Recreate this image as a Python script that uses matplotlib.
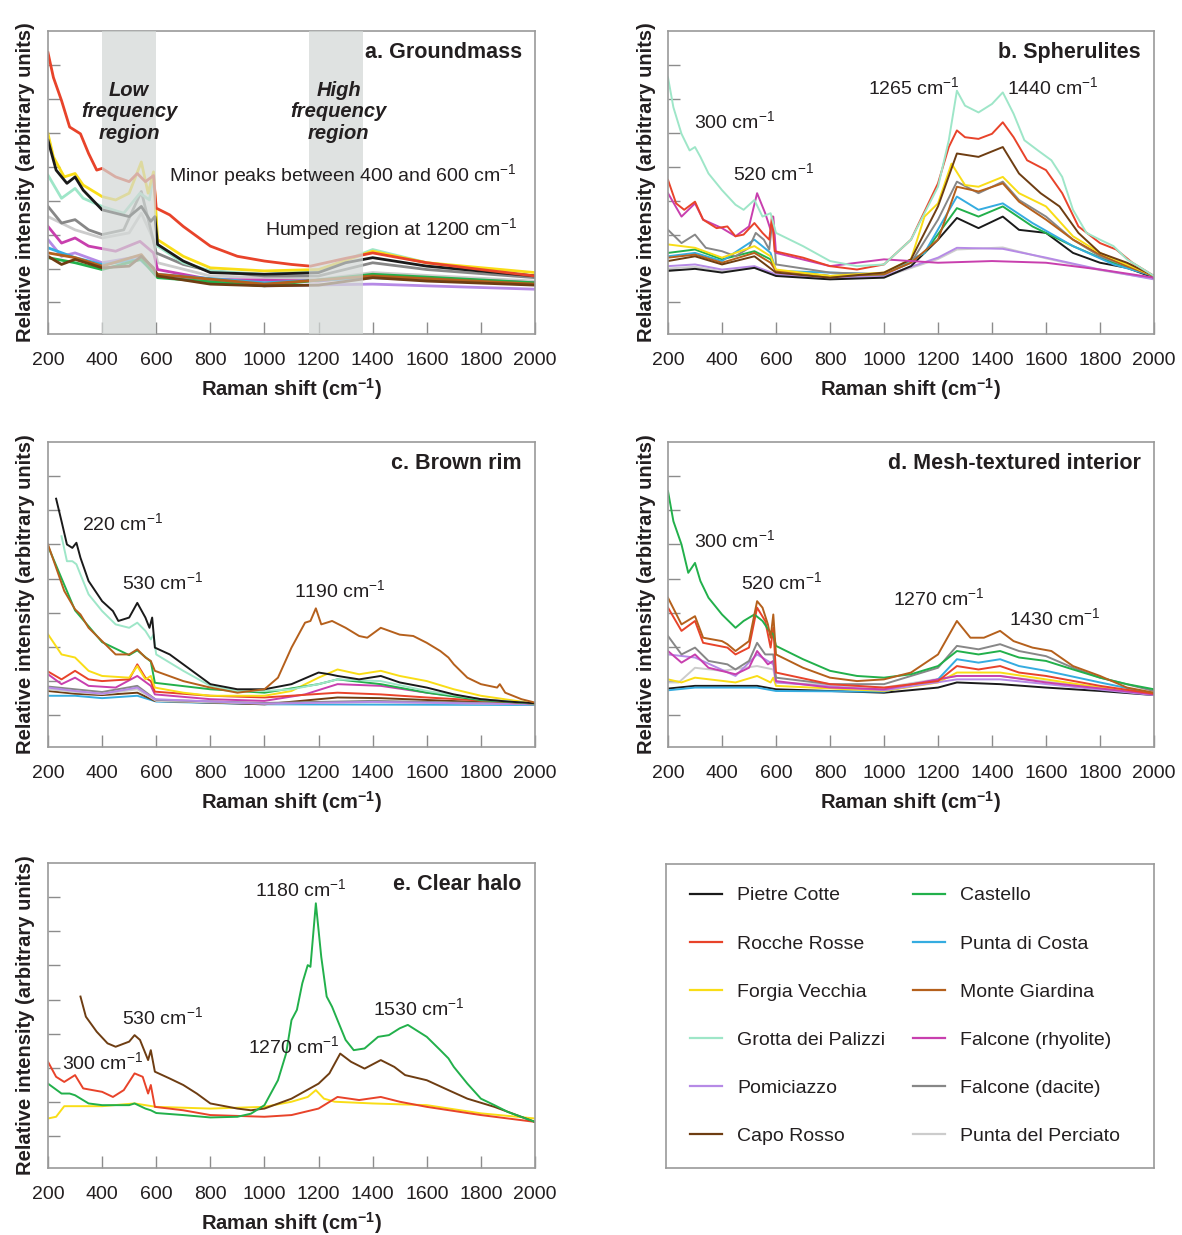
import matplotlib
matplotlib.use("Agg")
import matplotlib.pyplot as plt
from matplotlib.lines import Line2D

plt.rcParams["font.family"] = ["Liberation Sans", "DejaVu Sans"]
plt.rcParams["mathtext.default"] = "regular"
plt.rcParams["text.color"] = "#231f20"
plt.rcParams["axes.labelcolor"] = "#231f20"
plt.rcParams["xtick.color"] = "#8c8c8c"
plt.rcParams["xtick.labelcolor"] = "#231f20"

# =========================
# Locality colours (legend order: first column, then second column)
# =========================
LOCALITIES = [
    "Pietre Cotte", "Rocche Rosse", "Forgia Vecchia", "Grotta dei Palizzi",
    "Pomiciazzo", "Capo Rosso", "Castello", "Punta di Costa",
    "Monte Giardina", "Falcone (rhyolite)", "Falcone (dacite)", "Punta del Perciato",
]
COLORS = {
    "Pietre Cotte": "#1a1a1a",
    "Rocche Rosse": "#e8432a",
    "Forgia Vecchia": "#f9dd16",
    "Grotta dei Palizzi": "#9ee6c8",
    "Pomiciazzo": "#b68ae6",
    "Capo Rosso": "#6e3d12",
    "Castello": "#22b04b",
    "Punta di Costa": "#35ace0",
    "Monte Giardina": "#b5601c",
    "Falcone (rhyolite)": "#c83fae",
    "Falcone (dacite)": "#878787",
    "Punta del Perciato": "#cccccc",
}

# =========================
# Spectra: Raman shift (cm-1) and relative intensity (arbitrary units)
# =========================

# a. Groundmass
groundmass = {
    "Punta del Perciato": ([200, 300, 400, 500, 545, 590, 605, 800, 1200, 1400, 2000],
                           [2.53, 2.14, 1.90, 2.05, 2.63, 1.85, 1.17, 0.78, 0.68, 0.88, 0.63]),
    "Falcone (dacite)": ([200, 250, 300, 350, 400, 480, 545, 580, 600, 700, 800, 1000, 1200, 1400, 1600, 2000],
                         [2.83, 2.34, 2.44, 2.14, 2.00, 2.14, 3.27, 2.14, 1.46, 1.12, 0.93, 0.78, 0.78, 1.17, 0.97, 0.73]),
    "Grotta dei Palizzi": ([200, 250, 300, 330, 400, 480, 540, 575, 590, 605, 700, 800, 1000, 1200, 1400, 1600, 2000],
                           [3.75, 3.07, 3.36, 3.07, 2.83, 2.63, 3.22, 3.02, 3.80, 1.66, 1.17, 0.93, 0.83, 0.93, 1.56, 1.17, 0.78]),
    "Forgia Vecchia": ([200, 220, 260, 300, 330, 400, 450, 500, 545, 570, 590, 605, 700, 800, 1000, 1200, 1400, 1600, 2000],
                       [4.97, 4.29, 3.70, 3.80, 3.46, 3.12, 3.02, 3.22, 4.14, 3.22, 3.85, 1.85, 1.36, 1.02, 0.93, 0.97, 1.51, 1.17, 0.88]),
    "Pietre Cotte": ([200, 230, 270, 300, 330, 400, 450, 500, 545, 580, 595, 605, 700, 800, 1000, 1200, 1300, 1400, 1600, 2000],
                     [4.78, 3.90, 3.51, 3.70, 3.31, 2.73, 2.63, 2.53, 2.83, 2.39, 2.53, 1.71, 1.22, 0.88, 0.83, 0.88, 1.17, 1.32, 1.07, 0.78]),
    "Rocche Rosse": ([200, 220, 250, 280, 300, 320, 350, 380, 400, 450, 500, 530, 560, 590, 600, 650, 700, 750, 800, 900,
                      1000, 1100, 1170, 1300, 1400, 1600, 1800, 2000],
                     [7.36, 6.63, 5.95, 5.17, 5.07, 4.97, 4.39, 3.90, 3.95, 3.70, 3.56, 3.80, 3.56, 3.74, 2.78, 2.58, 2.24,
                      1.95, 1.66, 1.36, 1.22, 1.12, 1.07, 1.30, 1.46, 1.17, 0.97, 0.78]),
    "Falcone (rhyolite)": ([200, 250, 300, 350, 450, 540, 590, 605, 800, 1200, 1400, 2000],
                           [2.24, 1.75, 1.90, 1.66, 1.51, 1.80, 1.46, 0.97, 0.68, 0.63, 0.78, 0.58]),
    "Pomiciazzo": ([200, 250, 300, 400, 540, 600, 1000, 1400, 2000],
                   [1.85, 1.36, 1.46, 1.17, 1.36, 0.78, 0.49, 0.54, 0.39]),
    "Punta di Costa": ([200, 300, 400, 540, 600, 1000, 1400, 2000],
                       [1.61, 1.32, 1.12, 1.27, 0.83, 0.58, 0.73, 0.54]),
    "Castello": ([200, 300, 400, 545, 605, 1000, 1400, 2000],
                 [1.32, 1.17, 0.97, 1.27, 0.73, 0.49, 0.83, 0.58]),
    "Monte Giardina": ([200, 300, 400, 545, 605, 1000, 1400, 2000],
                       [1.46, 1.32, 1.07, 1.41, 0.83, 0.54, 0.78, 0.54]),
    "Capo Rosso": ([200, 250, 300, 400, 500, 545, 590, 605, 800, 1000, 1200, 1400, 1600, 2000],
                   [1.36, 1.12, 1.27, 1.02, 1.07, 1.36, 1.02, 0.78, 0.54, 0.49, 0.51, 0.73, 0.63, 0.51]),
}

# b. Spherulites
spherulites = {
    "Punta del Perciato": ([200, 300, 400, 520, 600, 800, 1000, 1200, 1270, 1440, 1600, 1800, 2000],
                           [1.00, 1.05, 0.92, 1.02, 0.80, 0.70, 0.75, 1.28, 1.56, 1.62, 1.30, 0.95, 0.70]),
    "Pomiciazzo": ([200, 300, 400, 520, 600, 800, 1000, 1200, 1270, 1440, 1600, 1800, 2000],
                   [1.07, 1.12, 0.97, 1.07, 0.83, 0.73, 0.78, 1.32, 1.61, 1.58, 1.32, 0.97, 0.68]),
    "Pietre Cotte": ([200, 300, 400, 520, 600, 800, 1000, 1100, 1200, 1270, 1350, 1440, 1500, 1600, 1700, 1800, 1900, 2000],
                     [0.93, 0.99, 0.88, 1.02, 0.78, 0.68, 0.73, 1.07, 1.85, 2.49, 2.19, 2.53, 2.14, 2.05, 1.46, 1.17, 1.02, 0.73]),
    "Castello": ([200, 300, 400, 520, 580, 600, 800, 1000, 1150, 1270, 1350, 1440, 1550, 1700, 1800, 1900, 2000],
                 [1.46, 1.56, 1.27, 1.51, 1.27, 0.93, 0.78, 0.83, 1.46, 2.78, 2.53, 2.83, 2.24, 1.66, 1.32, 1.02, 0.78]),
    "Punta di Costa": ([200, 300, 400, 520, 580, 600, 1000, 1150, 1270, 1350, 1440, 1550, 1700, 1850, 2000],
                       [1.36, 1.46, 1.22, 1.85, 1.46, 0.93, 0.83, 1.46, 3.12, 2.73, 2.92, 2.34, 1.66, 1.12, 0.78]),
    "Falcone (dacite)": ([200, 250, 300, 340, 400, 450, 500, 525, 555, 575, 588, 600, 800, 1000, 1100, 1200, 1270, 1350,
                         1440, 1500, 1600, 1700, 1800, 1900, 2000],
                         [2.14, 1.75, 2.00, 1.61, 1.51, 1.36, 1.61, 2.05, 1.85, 1.56, 2.53, 1.12, 0.88, 0.83, 1.17, 2.44,
                          3.56, 3.22, 3.56, 3.02, 2.53, 1.85, 1.36, 1.07, 0.78]),
    "Monte Giardina": ([200, 300, 400, 520, 580, 600, 800, 1000, 1100, 1200, 1270, 1350, 1440, 1500, 1600, 1700, 1800, 1900, 2000],
                       [1.32, 1.41, 1.17, 1.46, 1.17, 0.93, 0.78, 0.83, 1.17, 1.85, 3.41, 3.27, 3.51, 2.97, 2.44, 1.85, 1.41, 1.07, 0.78]),
    "Forgia Vecchia": ([200, 300, 400, 520, 580, 600, 800, 1000, 1100, 1150, 1200, 1250, 1300, 1350, 1440, 1500, 1600,
                        1700, 1800, 1900, 2000],
                       [1.71, 1.61, 1.32, 1.66, 1.36, 0.97, 0.78, 0.88, 1.27, 2.53, 2.92, 4.09, 3.46, 3.41, 3.70, 3.22, 2.83,
                        1.95, 1.46, 1.12, 0.78]),
    "Capo Rosso": ([200, 300, 400, 520, 600, 800, 1000, 1100, 1200, 1270, 1350, 1440, 1500, 1580, 1650, 1720, 1800, 1900, 2000],
                   [1.22, 1.36, 1.12, 1.36, 0.88, 0.73, 0.88, 1.27, 2.83, 4.39, 4.29, 4.58, 3.80, 3.22, 2.83, 2.05, 1.46, 1.17, 0.78]),
    "Falcone (rhyolite)": ([200, 250, 300, 330, 400, 450, 500, 530, 560, 580, 590, 600, 800, 1000, 1200, 1400, 1600, 1800, 2000],
                           [3.22, 2.53, 2.92, 2.44, 2.19, 1.95, 2.24, 3.22, 2.63, 2.14, 2.53, 1.46, 1.07, 1.27, 1.17, 1.22, 1.17, 0.97, 0.73]),
    "Rocche Rosse": ([200, 230, 260, 300, 330, 380, 420, 450, 480, 520, 550, 575, 585, 595, 700, 800, 900, 1000, 1100,
                      1200, 1240, 1270, 1300, 1350, 1400, 1440, 1480, 1530, 1600, 1660, 1720, 1800, 1860, 1920, 2000],
                     [3.61, 2.92, 2.73, 2.97, 2.44, 2.19, 2.24, 1.95, 2.00, 2.34, 2.05, 1.85, 2.53, 1.51, 1.32, 1.07,
                      0.97, 1.12, 1.85, 3.51, 4.58, 5.07, 4.87, 4.82, 4.97, 5.31, 4.87, 4.19, 3.90, 3.22, 2.24, 1.75,
                      1.56, 1.17, 0.78]),
    "Grotta dei Palizzi": ([200, 220, 250, 280, 300, 320, 350, 400, 450, 480, 520, 550, 580, 600, 700, 800, 900, 1000,
                            1100, 1200, 1240, 1270, 1300, 1350, 1400, 1440, 1480, 1520, 1570, 1620, 1660, 1700, 1750,
                            1800, 1850, 1900, 2000],
                           [6.63, 5.75, 4.97, 4.48, 4.58, 4.29, 3.80, 3.31, 2.88, 2.73, 3.02, 2.53, 2.63, 2.05, 1.66,
                            1.22, 1.07, 1.12, 1.85, 3.41, 4.78, 6.24, 5.80, 5.60, 5.85, 6.19, 5.56, 4.78, 4.48, 4.19,
                            3.70, 2.73, 2.05, 1.85, 1.66, 1.27, 0.78]),
}

# c. Brown rim
brown_rim = {
    "Punta di Costa": ([200, 300, 400, 530, 600, 1000, 2000],
                       [0.57, 0.57, 0.50, 0.57, 0.40, 0.32, 0.30]),
    "Capo Rosso": ([200, 300, 400, 530, 595, 1000, 1270, 1430, 2000],
                   [0.71, 0.63, 0.59, 0.66, 0.42, 0.32, 0.52, 0.50, 0.32]),
    "Punta del Perciato": ([200, 300, 400, 530, 600, 1000, 1400, 2000],
                           [0.76, 0.68, 0.62, 0.76, 0.42, 0.34, 0.38, 0.32]),
    "Falcone (dacite)": ([200, 300, 400, 530, 600, 1000, 1400, 2000],
                         [0.84, 0.76, 0.68, 0.86, 0.45, 0.36, 0.42, 0.33]),
    "Pomiciazzo": ([200, 300, 400, 530, 595, 1000, 1400, 2000],
                   [0.81, 0.71, 0.63, 0.81, 0.47, 0.34, 0.39, 0.32]),
    "Falcone (rhyolite)": ([200, 250, 300, 350, 450, 530, 580, 595, 800, 1000, 1150, 1270, 1430, 1600, 1800, 2000],
                           [1.20, 0.91, 1.10, 0.86, 0.81, 1.15, 0.86, 0.61, 0.47, 0.42, 0.61, 0.91, 0.86, 0.66, 0.47, 0.34]),
    "Rocche Rosse": ([200, 250, 300, 350, 400, 500, 530, 560, 580, 595, 800, 1000, 1270, 1430, 1600, 2000],
                     [1.28, 1.05, 1.30, 1.05, 1.00, 1.05, 1.49, 1.10, 1.00, 0.69, 0.57, 0.52, 0.66, 0.61, 0.52, 0.34]),
    "Forgia Vecchia": ([200, 250, 300, 350, 400, 500, 530, 560, 580, 595, 700, 800, 1000, 1100, 1200, 1270, 1350,
                        1430, 1500, 1600, 1700, 1800, 2000],
                       [2.37, 1.78, 1.69, 1.30, 1.15, 1.10, 1.44, 1.05, 1.15, 0.81, 0.66, 0.57, 0.57, 0.71, 1.10, 1.34,
                        1.20, 1.30, 1.15, 1.00, 0.76, 0.57, 0.34]),
    "Castello": ([200, 300, 400, 500, 530, 580, 595, 800, 1000, 1200, 1270, 1430, 1600, 1800, 2000],
                 [4.95, 3.07, 2.14, 1.76, 1.90, 1.57, 0.95, 0.76, 0.66, 0.91, 1.05, 0.91, 0.66, 0.44, 0.34]),
    "Grotta dei Palizzi": ([250, 270, 290, 305, 320, 350, 400, 450, 500, 530, 560, 580, 590, 600, 700, 800, 900, 1000,
                            1100, 1200, 1270, 1430, 1600, 1800, 2000],
                           [5.24, 4.51, 4.51, 4.42, 4.12, 3.54, 3.05, 2.66, 2.56, 2.71, 2.47, 2.22, 2.36, 1.78, 1.30,
                            0.86, 0.71, 0.71, 0.76, 0.91, 1.05, 1.00, 0.71, 0.47, 0.34]),
    "Pietre Cotte": ([230, 250, 270, 290, 305, 320, 350, 400, 440, 460, 500, 530, 560, 575, 585, 595, 650, 700, 750,
                      800, 900, 1000, 1100, 1200, 1240, 1270, 1350, 1430, 1500, 1600, 1700, 1800, 1900, 2000],
                     [6.34, 5.68, 5.00, 4.90, 5.05, 4.61, 3.93, 3.34, 3.05, 2.76, 2.86, 3.29, 2.86, 2.56, 2.86, 1.98,
                      1.78, 1.49, 1.20, 0.91, 0.76, 0.76, 0.91, 1.25, 1.20, 1.15, 1.05, 1.15, 0.96, 0.81, 0.61, 0.47,
                      0.40, 0.35]),
    "Monte Giardina": ([200, 230, 260, 300, 320, 350, 400, 450, 500, 530, 560, 580, 595, 700, 800, 900, 1000, 1050,
                        1100, 1150, 1170, 1190, 1210, 1250, 1300, 1350, 1380, 1430, 1500, 1550, 1600, 1650, 1680,
                        1700, 1750, 1800, 1860, 1870, 1890, 1950, 2000],
                       [5.00, 4.32, 3.64, 3.10, 2.95, 2.56, 2.17, 1.78, 1.78, 1.93, 1.69, 1.59, 1.30, 1.00, 0.81, 0.66,
                        0.76, 1.10, 1.98, 2.71, 2.76, 3.13, 2.66, 2.76, 2.56, 2.32, 2.27, 2.56, 2.36, 2.32, 2.12, 1.88,
                        1.69, 1.49, 1.10, 0.91, 0.81, 0.91, 0.66, 0.47, 0.37]),
}

# d. Mesh-textured interior
mesh_interior = {
    "Punta del Perciato": ([200, 240, 300, 400, 530, 590, 600, 1000, 1270, 1430, 2000],
                           [0.96, 0.96, 1.39, 1.30, 1.44, 1.34, 0.96, 0.81, 1.15, 1.15, 0.61]),
    "Pietre Cotte": ([200, 300, 530, 600, 1000, 1200, 1270, 1430, 1600, 1800, 2000],
                     [0.78, 0.86, 0.86, 0.76, 0.66, 0.81, 0.96, 0.91, 0.81, 0.71, 0.59]),
    "Punta di Costa": ([200, 300, 530, 600, 1000, 1200, 1270, 1350, 1430, 1500, 1600, 1800, 2000],
                       [0.73, 0.81, 0.81, 0.71, 0.69, 1.05, 1.64, 1.54, 1.64, 1.44, 1.30, 0.96, 0.63]),
    "Forgia Vecchia": ([200, 250, 300, 450, 530, 580, 590, 600, 1000, 1200, 1270, 1430, 1600, 1800, 2000],
                       [1.05, 0.96, 1.10, 0.96, 1.15, 0.96, 1.10, 0.86, 0.71, 0.96, 1.25, 1.25, 1.05, 0.81, 0.63]),
    "Pomiciazzo": ([200, 300, 450, 530, 590, 600, 1000, 1270, 1430, 2000],
                   [1.78, 1.69, 1.15, 1.78, 1.49, 0.96, 0.73, 1.05, 1.05, 0.59]),
    "Falcone (rhyolite)": ([200, 250, 300, 350, 450, 500, 530, 570, 590, 600, 800, 1000, 1270, 1430, 1600, 2000],
                           [1.88, 1.54, 1.78, 1.39, 1.20, 1.39, 1.88, 1.49, 1.59, 1.00, 0.81, 0.76, 1.15, 1.15, 0.96, 0.61]),
    "Falcone (dacite)": ([200, 250, 300, 350, 420, 450, 500, 530, 560, 590, 600, 800, 1000, 1200, 1270, 1350, 1430,
                         1500, 1600, 1700, 1800, 2000],
                         [2.32, 1.78, 1.98, 1.59, 1.49, 1.34, 1.59, 2.12, 1.78, 1.78, 1.10, 0.91, 0.91, 1.39, 2.03, 1.93,
                          2.08, 1.88, 1.73, 1.39, 1.10, 0.71]),
    "Rocche Rosse": ([200, 250, 300, 330, 420, 450, 500, 530, 560, 580, 590, 600, 800, 1000, 1200, 1270, 1350, 1430,
                      1500, 1600, 1800, 2000],
                     [3.15, 2.47, 2.76, 2.12, 1.98, 1.78, 1.98, 3.15, 2.76, 1.98, 2.56, 1.25, 0.91, 0.81, 1.00, 1.44,
                      1.34, 1.44, 1.25, 1.15, 0.86, 0.63]),
    "Castello": ([200, 220, 250, 275, 300, 320, 350, 400, 450, 480, 520, 550, 575, 590, 600, 700, 800, 900, 1000,
                  1100, 1200, 1270, 1350, 1430, 1500, 1600, 1700, 1800, 1900, 2000],
                 [6.56, 5.68, 5.00, 4.17, 4.46, 3.93, 3.44, 2.95, 2.56, 2.76, 2.95, 2.76, 2.47, 2.37, 2.03, 1.64,
                  1.30, 1.15, 1.10, 1.20, 1.44, 1.88, 1.78, 1.88, 1.69, 1.59, 1.34, 1.10, 0.91, 0.76]),
    "Monte Giardina": ([200, 250, 300, 330, 400, 420, 450, 500, 530, 550, 570, 580, 590, 600, 700, 800, 900, 1000,
                        1100, 1200, 1270, 1320, 1370, 1430, 1480, 1550, 1620, 1700, 1800, 1900, 2000],
                       [3.44, 2.66, 2.90, 2.27, 2.17, 2.08, 1.88, 2.17, 3.34, 3.15, 2.66, 2.27, 2.95, 1.78, 1.39, 1.10,
                        1.00, 1.05, 1.25, 1.78, 2.76, 2.27, 2.27, 2.47, 2.17, 1.98, 1.88, 1.44, 1.15, 0.81, 0.66]),
}

# e. Clear halo
clear_halo = {
    "Forgia Vecchia": ([200, 230, 260, 400, 520, 600, 800, 1000, 1100, 1160, 1190, 1220, 1260, 1400, 1600, 1800, 2000],
                       [0.52, 0.57, 0.88, 0.88, 0.96, 0.86, 0.81, 0.86, 1.01, 1.15, 1.35, 1.10, 1.01, 0.96, 0.91, 0.67, 0.52]),
    "Rocche Rosse": ([200, 230, 260, 300, 330, 400, 440, 480, 520, 550, 570, 580, 595, 700, 800, 1000, 1100, 1200,
                      1270, 1350, 1430, 1500, 1600, 1800, 2000],
                     [2.18, 1.74, 1.59, 1.79, 1.40, 1.30, 1.15, 1.35, 1.84, 1.74, 1.25, 1.50, 0.86, 0.76, 0.62, 0.57,
                      0.62, 0.81, 1.15, 1.06, 1.15, 1.01, 0.86, 0.62, 0.42]),
    "Capo Rosso": ([320, 340, 380, 420, 450, 500, 520, 540, 570, 580, 595, 650, 700, 750, 800, 900, 950, 1000, 1100,
                    1200, 1240, 1280, 1320, 1370, 1430, 1480, 1520, 1600, 1680, 1750, 1850, 2000],
                   [4.09, 3.50, 3.06, 2.72, 2.62, 2.77, 2.96, 2.82, 2.23, 2.52, 1.89, 1.69, 1.50, 1.25, 0.96, 0.81,
                    0.76, 0.81, 1.10, 1.54, 1.84, 2.42, 2.18, 1.98, 2.23, 2.03, 1.79, 1.64, 1.35, 1.10, 0.86, 0.42]),
    "Castello": ([200, 250, 280, 300, 350, 400, 500, 520, 560, 580, 600, 700, 800, 900, 950, 1000, 1050, 1080, 1100,
                  1120, 1140, 1160, 1170, 1190, 1210, 1230, 1250, 1270, 1300, 1330, 1370, 1420, 1460, 1500, 1530,
                  1560, 1600, 1650, 1680, 1700, 1750, 1800, 1850, 1900, 2000],
                 [1.54, 1.25, 1.25, 1.20, 0.96, 0.91, 0.91, 0.96, 0.81, 0.76, 0.68, 0.62, 0.55, 0.57, 0.66, 0.91,
                  1.64, 2.42, 3.40, 3.70, 4.48, 5.01, 4.96, 6.82, 5.25, 4.09, 3.79, 3.40, 2.82, 2.52, 2.57, 2.91,
                  2.96, 3.16, 3.26, 3.11, 2.91, 2.52, 2.28, 2.03, 1.54, 1.10, 0.91, 0.71, 0.42]),
}

# Peak labels: (text, x, y) in axes fractions
groundmass_notes = [("Minor peaks between 400 and 600 cm$^{-1}$", 0.963, 0.525),
                    ("Humped region at 1200 cm$^{-1}$", 0.963, 0.347)]
spherulite_notes = [("300 cm$^{-1}$", 0.053, 0.703), ("520 cm$^{-1}$", 0.134, 0.531),
                    ("1265 cm$^{-1}$", 0.412, 0.815), ("1440 cm$^{-1}$", 0.698, 0.815)]
brown_rim_notes = [("220 cm$^{-1}$", 0.070, 0.734), ("530 cm$^{-1}$", 0.152, 0.541),
                   ("1190 cm$^{-1}$", 0.505, 0.515)]
mesh_notes = [("300 cm$^{-1}$", 0.053, 0.679), ("520 cm$^{-1}$", 0.150, 0.541),
              ("1270 cm$^{-1}$", 0.463, 0.489), ("1430 cm$^{-1}$", 0.702, 0.423)]
halo_notes = [("1180 cm$^{-1}$", 0.425, 0.915), ("530 cm$^{-1}$", 0.152, 0.495),
              ("300 cm$^{-1}$", 0.029, 0.348), ("1270 cm$^{-1}$", 0.411, 0.400),
              ("1530 cm$^{-1}$", 0.667, 0.525)]

# Shaded regions of interest in the groundmass panel (cm-1)
low_band = (400, 600)
high_band = (1165, 1365)


def style_axes(ax, title):
    ax.set_xlim(200, 2000)
    ax.set_ylim(-0.93, 8.0)
    ax.set_xticks(range(200, 2001, 200))
    ax.set_yticks(range(0, 8))
    ax.set_yticklabels([])
    ax.tick_params(direction="in", length=8.5, width=1.0, color="#8c8c8c",
                   labelsize=14, pad=13)
    ax.tick_params(axis="y", labelleft=False)
    for sp in ax.spines.values():
        sp.set_color("#9a9a9a")
        sp.set_linewidth(1.2)
    ax.set_xlabel("Raman shift (cm$^{-1}$)", fontsize=14.5, fontweight="bold", labelpad=5)
    ax.set_ylabel("Relative intensity (arbitrary units)", fontsize=14.5,
                  fontweight="bold", labelpad=9)
    ax.text(0.973, 0.93, title, transform=ax.transAxes, ha="right", va="center",
            fontsize=15.5, fontweight="bold", zorder=6)


def draw_spectra(ax, spectra, lw=1.4):
    for name, (x, y) in spectra.items():
        ax.plot(x, y, color=COLORS[name], lw=lw, solid_joinstyle="round")


def draw_notes(ax, notes, ha="left"):
    for text, x, y in notes:
        ax.text(x, y, text, transform=ax.transAxes, ha=ha, va="center",
                fontsize=14, zorder=6)


W, H = 1182, 1235
fig = plt.figure(figsize=(W / 100, H / 100), dpi=100)


def px_axes(left, top, right, bottom):
    return fig.add_axes([left / W, 1 - bottom / H, (right - left) / W, (bottom - top) / H])


ax_a = px_axes(48, 31, 535, 334)
ax_b = px_axes(668, 31, 1154, 334)
ax_c = px_axes(48, 442, 535, 747)
ax_d = px_axes(668, 442, 1154, 747)
ax_e = px_axes(48, 863, 535, 1168)
ax_leg = px_axes(666, 864, 1154, 1168)

# a. Groundmass
draw_spectra(ax_a, groundmass, lw=2.0)
for lo, hi in (low_band, high_band):
    ax_a.axvspan(lo, hi, color="#d3d8d6", alpha=0.72, lw=0, zorder=4)
ax_a.text(500, 0.733, "Low\nfrequency\nregion", transform=ax_a.get_xaxis_transform(),
          ha="center", va="center", fontsize=14.5, fontweight="bold", style="italic",
          linespacing=1.15, zorder=6)
ax_a.text(1275, 0.733, "High\nfrequency\nregion", transform=ax_a.get_xaxis_transform(),
          ha="center", va="center", fontsize=14.5, fontweight="bold", style="italic",
          linespacing=1.15, zorder=6)
draw_notes(ax_a, groundmass_notes, ha="right")
style_axes(ax_a, "a. Groundmass")

# b. Spherulites
draw_spectra(ax_b, spherulites)
draw_notes(ax_b, spherulite_notes)
style_axes(ax_b, "b. Spherulites")

# c. Brown rim
draw_spectra(ax_c, brown_rim)
draw_notes(ax_c, brown_rim_notes)
style_axes(ax_c, "c. Brown rim")

# d. Mesh-textured interior
draw_spectra(ax_d, mesh_interior)
draw_notes(ax_d, mesh_notes)
style_axes(ax_d, "d. Mesh-textured interior")

# e. Clear halo
draw_spectra(ax_e, clear_halo)
draw_notes(ax_e, halo_notes)
style_axes(ax_e, "e. Clear halo")

# Shared legend in its own framed box
ax_leg.set_xticks([])
ax_leg.set_yticks([])
for sp in ax_leg.spines.values():
    sp.set_color("#9a9a9a")
    sp.set_linewidth(1.2)
handles = [Line2D([], [], color=COLORS[n], lw=1.6) for n in LOCALITIES]
ax_leg.legend(handles, LOCALITIES, ncol=2, loc="center", bbox_to_anchor=(0.49, 0.5),
              frameon=False, fontsize=14, handlelength=1.65, handletextpad=0.75,
              columnspacing=1.45, labelspacing=1.57, borderaxespad=0)

fig.savefig("out.png", dpi=100, facecolor="white")
